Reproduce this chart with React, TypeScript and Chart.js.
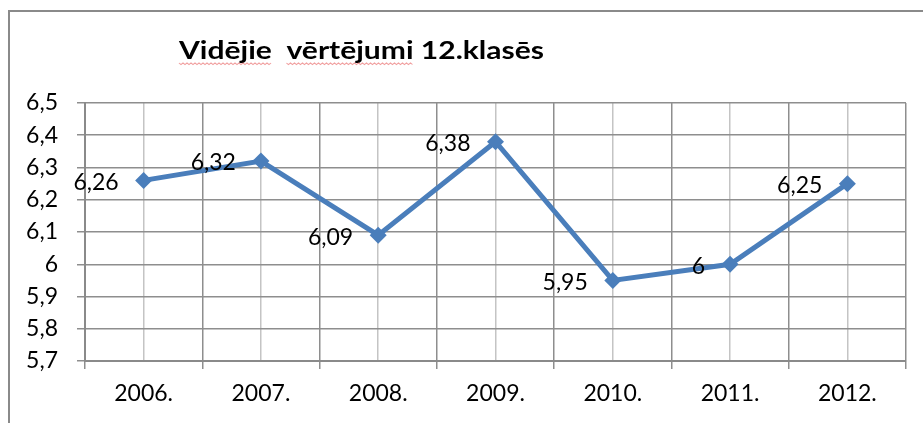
import React, { useEffect, useRef } from "react";
import { Chart, registerables } from "chart.js";

Chart.register(...registerables);

const TITLE = "Vidējie  vērtējumi 12.klasēs";
const SPELL_WORDS = ["Vidējie", "vērtējumi"];
const CATEGORIES = ["2006.", "2007.", "2008.", "2009.", "2010.", "2011.", "2012."];
const VALUES = [6.26, 6.32, 6.09, 6.38, 5.95, 6, 6.25];
const Y_MIN = 5.7;
const Y_MAX = 6.5;
const Y_STEP = 0.1;

const fmt = (v: number) => String(Number(v.toFixed(2))).replace(".", ",");

const FONT = "Lato, 'Open Sans', sans-serif";
const TEXT_SIZE = 23;

export default function App() {
  const ref = useRef<HTMLCanvasElement | null>(null);

  useEffect(() => {
    document.body.style.margin = "0";
    const canvas = ref.current;
    if (!canvas) return;

    const framePlugin = {
      id: "frame",
      beforeDraw(chart: any) {
        const ctx = chart.ctx;
        ctx.save();
        ctx.fillStyle = "#ffffff";
        ctx.fillRect(0, 0, chart.width, chart.height);
        ctx.strokeStyle = "#8a8a8a";
        ctx.lineWidth = 2;
        ctx.strokeRect(9, 11, chart.width + 20, chart.height + 20);
        ctx.restore();
      },
    };

    const titlePlugin = {
      id: "customTitle",
      afterDraw(chart: any) {
        const ctx = chart.ctx;
        ctx.save();
        ctx.font = `bold 24px ${FONT}`;
        ctx.fillStyle = "#000000";
        ctx.textAlign = "left";
        ctx.textBaseline = "alphabetic";
        const x0 = 179;
        const y0 = 59;
        const targetWidth = 365;
        const sx = targetWidth / ctx.measureText(TITLE).width;
        ctx.translate(x0, y0);
        ctx.scale(sx, 1);
        ctx.fillText(TITLE, 0, 0);
        // spell-check squiggles
        ctx.strokeStyle = "rgba(230,80,80,0.55)";
        ctx.lineWidth = 1;
        SPELL_WORDS.forEach((w) => {
          const idx = TITLE.indexOf(w);
          const start = ctx.measureText(TITLE.slice(0, idx)).width;
          const width = ctx.measureText(w).width;
          ctx.beginPath();
          for (let x = 0; x <= width; x += 2 / sx) {
            const k = Math.round(x * sx / 2);
            const y = 4 + (k % 2 === 0 ? 0 : 1.5);
            if (x === 0) ctx.moveTo(start + x, y);
            else ctx.lineTo(start + x, y);
          }
          ctx.stroke();
        });
        ctx.restore();
      },
    };

    const labelPlugin = {
      id: "pointLabels",
      afterDatasetsDraw(chart: any) {
        const ctx = chart.ctx;
        const meta = chart.getDatasetMeta(0);
        ctx.save();
        ctx.font = `${TEXT_SIZE}px ${FONT}`;
        ctx.fillStyle = "#000000";
        ctx.textAlign = "right";
        ctx.textBaseline = "middle";
        meta.data.forEach((pt: any, i: number) => {
          ctx.fillText(fmt(VALUES[i]), pt.x - 25, pt.y + 2);
        });
        ctx.restore();
      },
    };

    const chart = new Chart(canvas, {
      type: "line",
      data: {
        labels: CATEGORIES,
        datasets: [
          {
            data: VALUES,
            borderColor: "#4A7EBB",
            backgroundColor: "#4A7EBB",
            borderWidth: 5,
            tension: 0,
            pointStyle: "rectRot",
            pointRadius: 8.5,
            pointBorderWidth: 0,
            pointBackgroundColor: "#4A7EBB",
            xAxisID: "x",
          },
        ],
      },
      options: {
        animation: false,
        responsive: false,
        devicePixelRatio: 1,
        layout: { padding: { top: 103, left: 0, right: 17, bottom: 0 } },
        plugins: {
          legend: { display: false },
          title: { display: false },
          tooltip: { enabled: false },
        },
        scales: {
          x: {
            type: "category",
            position: "bottom",
            offset: true,
            grid: {
              offset: true,
              color: "#8e8e8e",
              lineWidth: 1.5,
              drawTicks: true,
              tickLength: 8,
            },
            border: { display: true, color: "#8a8a8a", width: 2 },
            ticks: {
              color: "#000000",
              font: { family: FONT, size: TEXT_SIZE },
              padding: 11,
              maxRotation: 0,
            },
            afterFit(scale: any) {
              scale.height = 62;
            },
          },
          x2: {
            type: "category",
            position: "bottom",
            offset: true,
            grid: {
              offset: false,
              color: "#c4c4c4",
              lineWidth: 1.5,
              drawTicks: false,
            },
            border: { display: false },
            ticks: { display: false },
            afterFit(scale: any) {
              scale.height = 0;
            },
          },
          y: {
            type: "linear",
            min: Y_MIN,
            max: Y_MAX,
            grid: {
              color: "#8e8e8e",
              lineWidth: 1.5,
              drawTicks: true,
              tickLength: 8,
            },
            border: { display: true, color: "#8a8a8a", width: 2 },
            ticks: {
              stepSize: Y_STEP,
              color: "#000000",
              font: { family: FONT, size: TEXT_SIZE },
              padding: 19,
              callback: (v: any) => fmt(Number(v)),
            },
            afterFit(scale: any) {
              scale.width = 85;
            },
          },
        },
      },
      plugins: [framePlugin, titlePlugin, labelPlugin],
    } as any);

    return () => chart.destroy();
  }, []);

  return (
    <div style={{ position: "absolute", left: 0, top: 0, width: 923, height: 423 }}>
      <canvas ref={ref} width={923} height={423} style={{ width: 923, height: 423 }} />
    </div>
  );
}
